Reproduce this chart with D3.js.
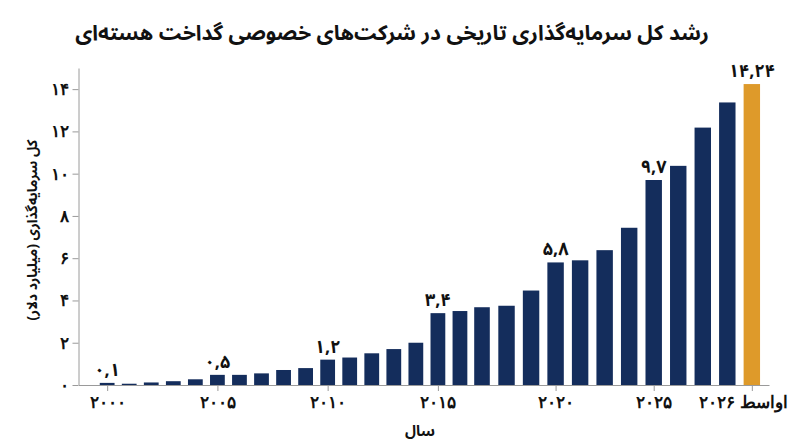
<!DOCTYPE html>
<html><head><meta charset="utf-8">
<script src="https://cdn.jsdelivr.net/npm/d3@7"></script>
<style>
html,body{margin:0;padding:0;background:#fff;}
svg{display:block;font-family:"Noto Sans Arabic","Vazirmatn","DejaVu Sans",sans-serif;}
</style></head>
<body><svg id="c" width="800" height="447"></svg>
<script>
// ---- data ----
const categories = ["2000","2001","2002","2003","2004","2005","2006","2007","2008","2009",
  "2010","2011","2012","2013","2014","2015","2016","2017","2018","2019","2020",
  "2021","2022","2023","2025","2025-Q3","2025-Q4","2026-Q1","2026-mid"];
const values = [0.10,0.06,0.12,0.18,0.27,0.48,0.48,0.55,0.71,0.80,
  1.20,1.30,1.50,1.70,2.00,3.40,3.50,3.68,3.75,4.47,5.80,
  5.90,6.38,7.44,9.70,10.37,12.18,13.37,14.24];
const highlightCategory = "2026-mid";
const tickCategories = ["2000","2005","2010","2015","2020","2025","2026-mid"];
const tickLabels = ["۲۰۰۰","۲۰۰۵","۲۰۱۰","۲۰۱۵","۲۰۲۰","۲۰۲۵","اواسط ۲۰۲۶"];
const annotatedCategories = ["2000","2005","2010","2015","2020","2025","2026-mid"];
const annotationLabels = ["۰,۱","۰,۵","۱,۲","۳,۴","۵,۸","۹,۷","۱۴,۲۴"];
const yTicks = [0,2,4,6,8,10,12,14];
const yTickLabels = ["۰","۲","۴","۶","۸","۱۰","۱۲","۱۴"];
const titleText = "رشد کل سرمایه\u200cگذاری تاریخی در شرکت\u200cهای خصوصی گداخت هسته\u200cای";
const yTitle = "کل سرمایه\u200cگذاری (میلیارد دلار)";
const xTitle = "سال";

// ---- chart ----
const svg = d3.select("#c");
const idx = c => categories.indexOf(c);
const x = d3.scaleLinear().domain([-1.3, 17, 28.7]).range([78.5, 482, 769]);
const y = d3.scaleLinear().domain([0, 15]).range([385, 68]);
const navy = "#142d5c", gold = "#de9a2a", axisCol = "#9a9a9a";

// bars
svg.append("g").selectAll("rect").data(categories).join("rect")
  .attr("x", (c,i) => { const w = (x(i+0.5)-x(i-0.5))*0.67; return x(i)-w/2; })
  .attr("width", (c,i) => (x(i+0.5)-x(i-0.5))*0.67)
  .attr("y", (c,i) => y(values[i]))
  .attr("height", (c,i) => y(0)-y(values[i]))
  .attr("fill", c => c === highlightCategory ? gold : navy);

// y axis
const yAxis = svg.append("g").attr("transform", `translate(${x(-1.3)},0)`)
  .call(d3.axisLeft(y).tickValues(yTicks).tickSize(6).tickSizeOuter(0).tickPadding(4)
    .tickFormat((d,i) => yTickLabels[i]));
yAxis.select(".domain").attr("stroke", axisCol);
yAxis.selectAll(".tick line").attr("stroke", axisCol);
yAxis.selectAll(".tick text").attr("font-size", 17).attr("font-weight", "bold").attr("fill", "#111");

// x axis
const xAxis = svg.append("g").attr("transform", `translate(0,${y(0)})`)
  .call(d3.axisBottom(x).tickValues(tickCategories.map(idx)).tickSize(6).tickSizeOuter(0).tickPadding(5)
    .tickFormat((d,i) => tickLabels[i]));
xAxis.select(".domain").attr("stroke", axisCol);
xAxis.selectAll(".tick line").attr("stroke", axisCol);
xAxis.selectAll(".tick text").attr("font-size", 17).attr("font-weight", "bold").attr("fill", "#111")
  .attr("direction", "rtl")
  .attr("dx", (d,i) => i === tickLabels.length-1 ? -9 : 0);

// annotations
svg.append("g").selectAll("text").data(annotatedCategories).join("text")
  .attr("x", c => x(idx(c)))
  .attr("y", c => y(values[idx(c)]) - 7)
  .attr("text-anchor", "middle")
  .attr("font-size", 18).attr("font-weight", "bold").attr("fill", "#111")
  .attr("direction", "rtl")
  .text((c,i) => annotationLabels[i]);

// titles
svg.append("text").attr("x", 392).attr("y", 40).attr("text-anchor", "middle")
  .attr("direction", "rtl").attr("font-size", 21).attr("font-weight", "bold").attr("fill", "#111")
  .text(titleText);
svg.append("text").attr("transform", "translate(37,230) rotate(-90)").attr("text-anchor", "middle")
  .attr("direction", "rtl").attr("font-size", 14).attr("font-weight", "bold").attr("fill", "#111")
  .text(yTitle);
svg.append("text").attr("x", 420).attr("y", 436).attr("text-anchor", "middle")
  .attr("direction", "rtl").attr("font-size", 15).attr("font-weight", "bold").attr("fill", "#111")
  .text(xTitle);
</script></body></html>
